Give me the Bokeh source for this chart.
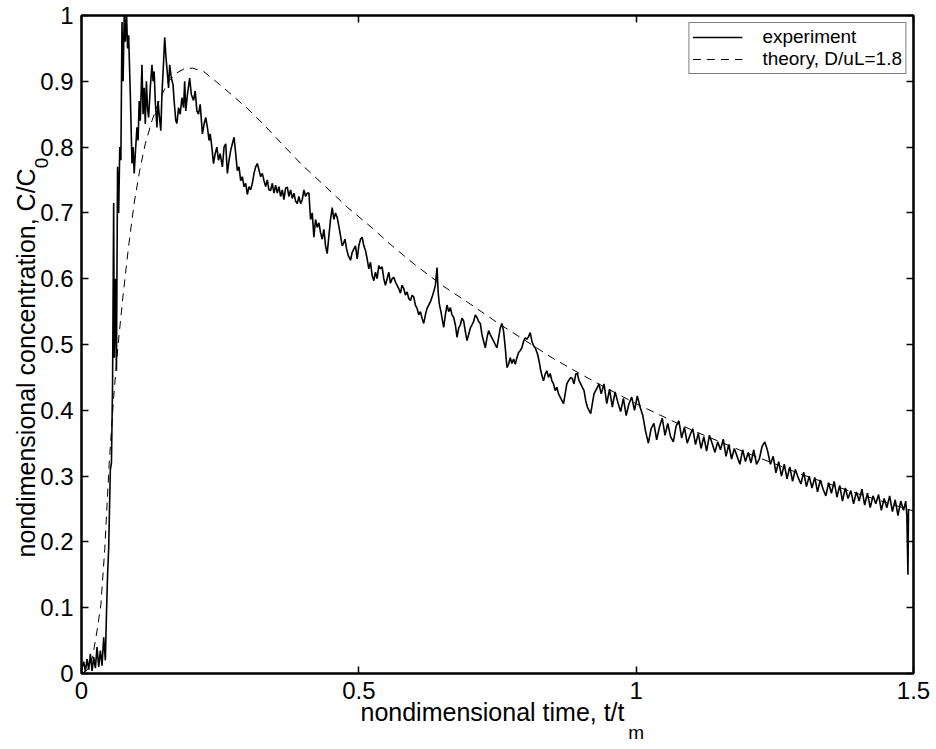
from bokeh.plotting import figure
from bokeh.models import (LinearAxis, FixedTicker, CustomJSTickFormatter,
                          Legend, LegendItem, Range1d)
from bokeh.embed import file_html
from bokeh.resources import INLINE

# ---- measured breakthrough curve (nondimensional time vs. C/C0) ----
t_exp = [
    0.000, 0.004, 0.007, 0.010, 0.013, 0.016, 0.019, 0.022, 0.025, 0.028,
    0.031, 0.034, 0.037, 0.040, 0.043, 0.045, 0.047, 0.049, 0.052, 0.054,
    0.056, 0.058, 0.059, 0.061, 0.063, 0.065, 0.067, 0.069, 0.071, 0.073,
    0.075, 0.077, 0.079, 0.081, 0.083, 0.085, 0.088, 0.091, 0.093, 0.095,
    0.097, 0.100, 0.102, 0.104, 0.106, 0.109, 0.111, 0.113, 0.115, 0.117,
    0.119, 0.121, 0.124, 0.127, 0.129, 0.131, 0.133, 0.136, 0.138, 0.140,
    0.143, 0.145, 0.148, 0.150, 0.152, 0.155, 0.157, 0.159, 0.162, 0.165,
    0.167, 0.170, 0.172, 0.175, 0.178, 0.181, 0.184, 0.186, 0.188, 0.191,
    0.195, 0.198, 0.202, 0.205, 0.208, 0.211, 0.214, 0.218, 0.221, 0.224,
    0.227, 0.230, 0.232, 0.235, 0.238, 0.241, 0.244, 0.247, 0.250, 0.254,
    0.257, 0.260, 0.263, 0.266, 0.269, 0.272, 0.275, 0.278, 0.281, 0.284,
    0.287, 0.290, 0.293, 0.296, 0.299, 0.302, 0.305, 0.308, 0.311, 0.314,
    0.317, 0.320, 0.323, 0.326, 0.329, 0.332, 0.335, 0.338, 0.341, 0.344,
    0.347, 0.350, 0.353, 0.356, 0.359, 0.362, 0.365, 0.368, 0.371, 0.374,
    0.377, 0.380, 0.383, 0.386, 0.389, 0.392, 0.395, 0.398, 0.401, 0.404,
    0.407, 0.410, 0.413, 0.416, 0.419, 0.422, 0.425, 0.428, 0.431, 0.434,
    0.437, 0.440, 0.443, 0.446, 0.449, 0.452, 0.455, 0.458, 0.461, 0.464,
    0.467, 0.470, 0.472, 0.475, 0.478, 0.481, 0.485, 0.488, 0.491, 0.494,
    0.497, 0.500, 0.503, 0.506, 0.509, 0.512, 0.515, 0.518, 0.521, 0.524,
    0.527, 0.530, 0.533, 0.536, 0.539, 0.542, 0.545, 0.548, 0.551, 0.554,
    0.557, 0.560, 0.563, 0.566, 0.569, 0.572, 0.575, 0.578, 0.581, 0.584,
    0.587, 0.590, 0.593, 0.596, 0.599, 0.602, 0.605, 0.608, 0.611, 0.614,
    0.617, 0.620, 0.623, 0.626, 0.629, 0.632, 0.635, 0.638, 0.641, 0.643,
    0.645, 0.648, 0.650, 0.653, 0.656, 0.659, 0.662, 0.665, 0.668, 0.671,
    0.674, 0.677, 0.680, 0.683, 0.686, 0.689, 0.692, 0.695, 0.698, 0.701,
    0.704, 0.707, 0.710, 0.713, 0.716, 0.719, 0.722, 0.725, 0.728, 0.731,
    0.734, 0.737, 0.740, 0.743, 0.746, 0.749, 0.752, 0.755, 0.758, 0.761,
    0.764, 0.767, 0.770, 0.773, 0.776, 0.779, 0.782, 0.785, 0.788, 0.791,
    0.794, 0.797, 0.800, 0.803, 0.806, 0.809, 0.812, 0.815, 0.818, 0.822,
    0.825, 0.828, 0.831, 0.833, 0.836, 0.839, 0.842, 0.845, 0.848, 0.851,
    0.854, 0.857, 0.860, 0.863, 0.866, 0.869, 0.872, 0.875, 0.878, 0.882,
    0.885, 0.888, 0.891, 0.894, 0.897, 0.900, 0.903, 0.906, 0.909, 0.912,
    0.915, 0.918, 0.921, 0.924, 0.927, 0.930, 0.933, 0.937, 0.942, 0.947,
    0.952, 0.957, 0.962, 0.967, 0.972, 0.977, 0.982, 0.987, 0.992, 0.997,
    1.002, 1.007, 1.012, 1.017, 1.022, 1.027, 1.032, 1.037, 1.042, 1.047,
    1.052, 1.057, 1.062, 1.067, 1.072, 1.077, 1.082, 1.087, 1.092, 1.097,
    1.102, 1.107, 1.112, 1.117, 1.122, 1.127, 1.132, 1.137, 1.142, 1.147,
    1.152, 1.157, 1.162, 1.167, 1.172, 1.177, 1.182, 1.187, 1.192, 1.197,
    1.202, 1.207, 1.212, 1.217, 1.222, 1.227, 1.232, 1.237, 1.242, 1.247,
    1.252, 1.257, 1.262, 1.267, 1.272, 1.277, 1.282, 1.287, 1.292, 1.297,
    1.302, 1.307, 1.312, 1.317, 1.322, 1.327, 1.332, 1.337, 1.342, 1.347,
    1.352, 1.357, 1.362, 1.367, 1.372, 1.377, 1.382, 1.387, 1.392, 1.397,
    1.402, 1.407, 1.412, 1.417, 1.422, 1.427, 1.432, 1.437, 1.442, 1.447,
    1.452, 1.457, 1.462, 1.467, 1.472, 1.477, 1.482, 1.486, 1.488, 1.490,
    1.491,
]
c_exp = [
    0.005, 0.018, 0.003, 0.022, 0.006, 0.030, 0.004, 0.025, 0.008, 0.040,
    0.010, 0.035, 0.012, 0.055, 0.020, 0.090, 0.150, 0.190, 0.310, 0.320,
    0.440, 0.715, 0.480, 0.600, 0.460, 0.770, 0.700, 0.800, 0.780, 0.990,
    0.900, 1.000, 0.960, 1.010, 0.950, 0.970, 0.880, 0.775, 0.800, 0.760,
    0.790, 0.830, 0.810, 0.870, 0.840, 0.925, 0.850, 0.890, 0.835, 0.900,
    0.860, 0.845, 0.890, 0.925, 0.900, 0.915, 0.870, 0.830, 0.870, 0.850,
    0.825, 0.880, 0.930, 0.967, 0.940, 0.910, 0.890, 0.925, 0.905, 0.895,
    0.870, 0.840, 0.836, 0.860, 0.850, 0.875, 0.860, 0.900, 0.855, 0.880,
    0.905, 0.880, 0.871, 0.885, 0.855, 0.850, 0.865, 0.820, 0.835, 0.845,
    0.830, 0.810, 0.820, 0.800, 0.775, 0.790, 0.800, 0.780, 0.790, 0.770,
    0.800, 0.805, 0.760, 0.780, 0.795, 0.805, 0.815, 0.790, 0.764, 0.770,
    0.749, 0.755, 0.740, 0.745, 0.728, 0.740, 0.735, 0.745, 0.760, 0.770,
    0.775, 0.765, 0.755, 0.760, 0.749, 0.740, 0.750, 0.735, 0.734, 0.745,
    0.730, 0.742, 0.730, 0.740, 0.725, 0.735, 0.720, 0.738, 0.739, 0.725,
    0.735, 0.722, 0.730, 0.718, 0.714, 0.725, 0.714, 0.720, 0.735, 0.725,
    0.730, 0.730, 0.690, 0.700, 0.663, 0.690, 0.678, 0.685, 0.670, 0.660,
    0.675, 0.650, 0.638, 0.665, 0.690, 0.708, 0.690, 0.700, 0.693, 0.680,
    0.665, 0.650, 0.653, 0.660, 0.645, 0.635, 0.628, 0.640, 0.645, 0.650,
    0.630, 0.650, 0.660, 0.663, 0.650, 0.643, 0.630, 0.615, 0.625, 0.605,
    0.597, 0.610, 0.600, 0.620, 0.615, 0.618, 0.600, 0.590, 0.600, 0.610,
    0.593, 0.600, 0.602, 0.595, 0.590, 0.585, 0.578, 0.590, 0.585, 0.575,
    0.580, 0.570, 0.567, 0.575, 0.572, 0.560, 0.555, 0.545, 0.550, 0.540,
    0.532, 0.545, 0.555, 0.560, 0.565, 0.572, 0.580, 0.590, 0.617, 0.580,
    0.562, 0.550, 0.540, 0.526, 0.545, 0.560, 0.550, 0.556, 0.545, 0.541,
    0.530, 0.511, 0.525, 0.530, 0.540, 0.536, 0.520, 0.506, 0.515, 0.525,
    0.530, 0.535, 0.545, 0.541, 0.535, 0.532, 0.515, 0.505, 0.495, 0.510,
    0.521, 0.515, 0.510, 0.505, 0.500, 0.495, 0.510, 0.525, 0.532, 0.520,
    0.495, 0.465, 0.470, 0.480, 0.471, 0.478, 0.470, 0.480, 0.488, 0.491,
    0.495, 0.505, 0.510, 0.508, 0.512, 0.518, 0.505, 0.498, 0.495, 0.486,
    0.475, 0.460, 0.450, 0.445, 0.455, 0.460, 0.450, 0.456, 0.445, 0.440,
    0.430, 0.435, 0.425, 0.420, 0.415, 0.410, 0.425, 0.440, 0.445, 0.450,
    0.448, 0.440, 0.455, 0.456, 0.445, 0.440, 0.435, 0.430, 0.415, 0.405,
    0.400, 0.395, 0.410, 0.425, 0.430, 0.435, 0.440, 0.425, 0.440, 0.410,
    0.432, 0.405, 0.428, 0.412, 0.398, 0.418, 0.392, 0.410, 0.420, 0.400,
    0.422, 0.405, 0.392, 0.368, 0.350, 0.372, 0.380, 0.355, 0.375, 0.388,
    0.362, 0.380, 0.360, 0.352, 0.376, 0.384, 0.358, 0.374, 0.350, 0.362,
    0.372, 0.348, 0.365, 0.342, 0.360, 0.338, 0.362, 0.350, 0.336, 0.352,
    0.340, 0.356, 0.330, 0.348, 0.326, 0.342, 0.330, 0.318, 0.340, 0.322,
    0.336, 0.320, 0.340, 0.318, 0.326, 0.345, 0.352, 0.338, 0.318, 0.330,
    0.305, 0.322, 0.300, 0.318, 0.296, 0.314, 0.292, 0.310, 0.298, 0.288,
    0.306, 0.284, 0.300, 0.282, 0.298, 0.276, 0.294, 0.280, 0.270, 0.290,
    0.274, 0.292, 0.268, 0.286, 0.262, 0.282, 0.266, 0.278, 0.258, 0.276,
    0.262, 0.280, 0.256, 0.274, 0.252, 0.270, 0.258, 0.272, 0.248, 0.266,
    0.252, 0.270, 0.246, 0.264, 0.240, 0.262, 0.248, 0.262, 0.240, 0.150,
    0.250,
]

# ---- dispersion model, D/uL = 1.8 ----
t_theory = [0.000, 0.010, 0.020, 0.028, 0.035, 0.042, 0.050, 0.058, 0.066,
            0.075, 0.085, 0.095, 0.105, 0.115, 0.127, 0.140, 0.155, 0.170,
            0.185, 0.200, 0.220, 0.245, 0.270, 0.300, 0.330, 0.360, 0.400,
            0.440, 0.480, 0.520, 0.560, 0.600, 0.650, 0.700, 0.750, 0.800,
            0.850, 0.900, 0.950, 1.000, 1.100, 1.200, 1.300, 1.400, 1.500]
c_theory = [0.000, 0.005, 0.025, 0.065, 0.105, 0.190, 0.320, 0.420, 0.500,
            0.575, 0.650, 0.715, 0.765, 0.805, 0.840, 0.870, 0.898, 0.912,
            0.919, 0.920, 0.915, 0.898, 0.880, 0.858, 0.833, 0.806, 0.771,
            0.740, 0.708, 0.680, 0.650, 0.622, 0.590, 0.562, 0.533, 0.506,
            0.479, 0.455, 0.432, 0.410, 0.370, 0.335, 0.302, 0.273, 0.247]

x_ticks = [0, 0.5, 1, 1.5]
y_ticks = [0, 0.1, 0.2, 0.3, 0.4, 0.5, 0.6, 0.7, 0.8, 0.9, 1]

x_title, x_sub = "nondimensional time, t/t", "m"
y_title, y_sub = "nondimensional concentration, C/C", "0"

FONT = "Liberation Sans"

# where the axis titles and their subscripts sit along each axis
X_TITLE_AT, X_SUB_AT = 0.741, 1.0
Y_TITLE_AT, Y_SUB_AT = 0.472, 0.776

p = figure(width=936, height=749, x_range=Range1d(0, 1.5), y_range=Range1d(0, 1),
           output_backend="svg", toolbar_location=None,
           min_border_left=81, min_border_right=23, min_border_top=15,
           min_border_bottom=76)
p.background_fill_color = "white"
p.border_fill_color = "white"
p.outline_line_color = "black"
p.outline_line_width = 2
p.grid.visible = False

num_fmt = CustomJSTickFormatter(code="return String(Math.round(tick * 10) / 10);")


def style_axis(ax, ticks, labelled):
    ax.ticker = FixedTicker(ticks=ticks)
    ax.formatter = num_fmt
    ax.major_tick_in = 7
    ax.major_tick_out = 0
    ax.minor_tick_in = 0
    ax.minor_tick_out = 0
    ax.major_tick_line_width = 1.5
    ax.major_tick_line_color = "black"
    ax.axis_line_width = 2
    ax.axis_line_color = "black"
    ax.major_label_text_font = FONT
    ax.major_label_text_color = "black"
    if labelled:
        ax.major_label_text_font_size = "24px"
        ax.major_label_standoff = 8
    else:
        ax.major_label_text_font_size = "0px"
        ax.major_label_text_alpha = 0
        ax.major_label_standoff = 0


def title_axis(at, text, size, standoff, vertical=False):
    """An axis with no line or ticks that only carries one piece of title text."""
    ax = LinearAxis(ticker=FixedTicker(ticks=[at]),
                    formatter=CustomJSTickFormatter(args=dict(t=text), code="return t;"))
    ax.axis_line_color = None
    ax.major_tick_line_color = None
    ax.minor_tick_line_color = None
    ax.major_tick_in = 0
    ax.major_tick_out = 0
    ax.minor_tick_in = 0
    ax.minor_tick_out = 0
    ax.major_label_text_font = FONT
    ax.major_label_text_font_size = size
    ax.major_label_text_color = "black"
    ax.major_label_standoff = standoff
    if vertical:
        ax.major_label_orientation = "vertical"
    return ax


style_axis(p.xaxis[0], x_ticks, True)
style_axis(p.yaxis[0], y_ticks, True)

top_axis = LinearAxis()
style_axis(top_axis, x_ticks, False)
p.add_layout(top_axis, "above")
right_axis = LinearAxis()
style_axis(right_axis, y_ticks, False)
p.add_layout(right_axis, "right")

# x title, then its subscript one step further down
p.add_layout(title_axis(X_TITLE_AT, x_title, "25px", -4), "below")
p.add_layout(title_axis(X_SUB_AT, x_sub, "19px", -7), "below")
# y subscript sits between the tick labels and the rotated y title
p.add_layout(title_axis(Y_SUB_AT, y_sub, "19px", -11, vertical=True), "left")
p.add_layout(title_axis(Y_TITLE_AT, y_title, "25px", -8, vertical=True), "left")

r_theory = p.line(t_theory, c_theory, line_color="black", line_width=1,
                  line_dash="8 6")
r_exp = p.line(t_exp, c_exp, line_color="black", line_width=1.6)

legend = Legend(items=[LegendItem(label="experiment", renderers=[r_exp]),
                       LegendItem(label="theory, D/uL=1.8", renderers=[r_theory])],
                location="top_right", margin=7, padding=3, spacing=0,
                label_text_font=FONT, label_text_font_size="19px",
                label_text_color="black", label_height=18, glyph_height=18,
                glyph_width=50, label_standoff=20,
                border_line_color="black", border_line_width=1.2,
                background_fill_color="white", background_fill_alpha=1)
p.add_layout(legend)

open("out.html", "w").write(file_html(p, INLINE))
